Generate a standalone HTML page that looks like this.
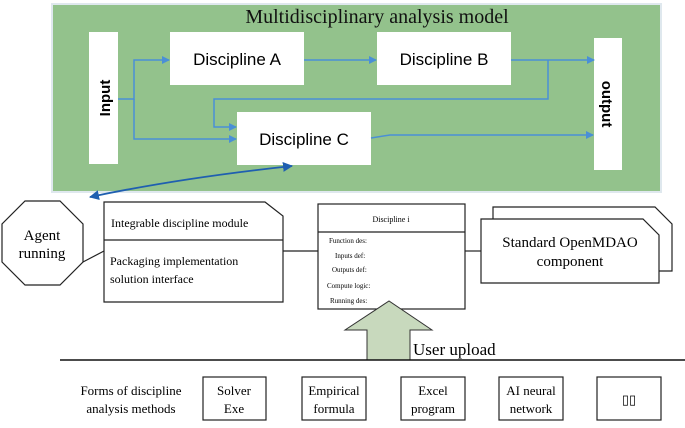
<!DOCTYPE html>
<html><head><style>
body{margin:0;background:#fff;}
svg text{font-family:"Liberation Serif",serif;}
.s{font-family:"Liberation Sans",sans-serif;}
</style></head><body>
<svg width="685" height="423" viewBox="0 0 685 423" xmlns="http://www.w3.org/2000/svg">
<defs>
<marker id="a" markerWidth="8" markerHeight="8" refX="7" refY="4" orient="auto" markerUnits="userSpaceOnUse"><path d="M0,0 L8,4 L0,8 z" fill="#4a8fd6"/></marker>
<marker id="d" markerWidth="10" markerHeight="10" refX="9" refY="5" orient="auto-start-reverse" markerUnits="userSpaceOnUse"><path d="M0,0 L10,5 L0,10 z" fill="#1f5fb0"/></marker>
</defs>
<rect x="52" y="4" width="609" height="188" fill="#93c28c" stroke="#dfe8ee" stroke-width="2"/>
<text x="377" y="23" font-size="20" text-anchor="middle" fill="#111">Multidisciplinary analysis model</text>
<rect x="89" y="32" width="29" height="132" fill="#fff"/>
<text class="s" transform="translate(110,98) rotate(-90)" font-size="15" font-weight="bold" text-anchor="middle">Input</text>
<rect x="594" y="38" width="28" height="132" fill="#fff"/>
<text class="s" transform="translate(602,104) rotate(90)" font-size="15" font-weight="bold" text-anchor="middle">output</text>
<rect x="170" y="32" width="134" height="53" fill="#fff"/>
<text class="s" x="237" y="65" font-size="17" text-anchor="middle">Discipline A</text>
<rect x="377" y="32" width="134" height="53" fill="#fff"/>
<text class="s" x="444" y="65" font-size="17" text-anchor="middle">Discipline B</text>
<rect x="237" y="112" width="134" height="53" fill="#fff"/>
<text class="s" x="304" y="145" font-size="17" text-anchor="middle">Discipline C</text>
<g stroke="#4a8fd6" stroke-width="1.5" fill="none">
<path d="M118,99 H134 V60 H169" marker-end="url(#a)"/>
<path d="M134,99 V139 H236" marker-end="url(#a)"/>
<path d="M304,60 H376" marker-end="url(#a)"/>
<path d="M511,60 H594" marker-end="url(#a)"/>
<path d="M548,60 V99 H214 V127 H236" marker-end="url(#a)"/>
<path d="M371,138 L390,135 H593" marker-end="url(#a)"/>
</g>
<path d="M90,197 Q180,178 292,166" stroke="#1f5fb0" stroke-width="1.8" fill="none" marker-start="url(#d)" marker-end="url(#d)"/>
<g stroke="#222" stroke-width="1.2" fill="#fff">
<polygon points="25,201 60,201 83,224 83,262 60,285 25,285 2,262 2,224"/>
<path d="M104,202 H265 L283,216 V302 H104 Z"/>
<line x1="104" y1="240" x2="283" y2="240"/>
<rect x="318" y="204" width="147" height="105"/>
<line x1="318" y1="232" x2="465" y2="232"/>
<path d="M493,207 H655 L672,224 V271 H493 Z"/>
<path d="M481,219 H643 L659,235 V283 H481 Z"/>
<line x1="83" y1="262" x2="104" y2="251"/>
<line x1="283" y1="251" x2="318" y2="251"/>
<line x1="465" y1="251" x2="481" y2="251"/>
</g>
<text x="42" y="240" font-size="15" text-anchor="middle">Agent</text>
<text x="42" y="258" font-size="15" text-anchor="middle">running</text>
<text x="111" y="227" font-size="12">Integrable discipline module</text>
<text x="110" y="265" font-size="12">Packaging implementation</text>
<text x="110" y="283" font-size="12">solution interface</text>
<text x="391" y="222" font-size="8" text-anchor="middle">Discipline i</text>
<g font-size="7">
<text x="329" y="243">Function des:</text>
<text x="335" y="258">Inputs def:</text>
<text x="332" y="272">Outputs def:</text>
<text x="327" y="288">Compute logic:</text>
<text x="330" y="303">Running des:</text>
</g>
<text x="570" y="247" font-size="15" text-anchor="middle">Standard OpenMDAO</text>
<text x="570" y="266" font-size="15" text-anchor="middle">component</text>
<polygon points="367,360 367,330 345,330 389,301 432,330 410,330 410,360" fill="#c8d9bd" stroke="#333" stroke-width="1"/>
<text x="413" y="355" font-size="17">User upload</text>
<line x1="60" y1="360" x2="685" y2="360" stroke="#111" stroke-width="1.5"/>
<text x="131" y="395" font-size="13" text-anchor="middle">Forms of discipline</text>
<text x="131" y="413" font-size="13" text-anchor="middle">analysis methods</text>
<g stroke="#222" stroke-width="1.2" fill="#fff">
<rect x="203" y="377" width="63" height="43"/>
<rect x="302" y="377" width="64" height="43"/>
<rect x="401" y="377" width="64" height="43"/>
<rect x="499" y="377" width="64" height="43"/>
<rect x="597" y="377" width="64" height="43"/>
</g>
<g font-size="13" text-anchor="middle">
<text x="234" y="395">Solver</text><text x="234" y="413">Exe</text>
<text x="334" y="395">Empirical</text><text x="334" y="413">formula</text>
<text x="433" y="395">Excel</text><text x="433" y="413">program</text>
<text x="531" y="395">AI neural</text><text x="531" y="413">network</text>
<text x="629" y="404">▯▯</text>
</g>
</svg>
</body></html>
